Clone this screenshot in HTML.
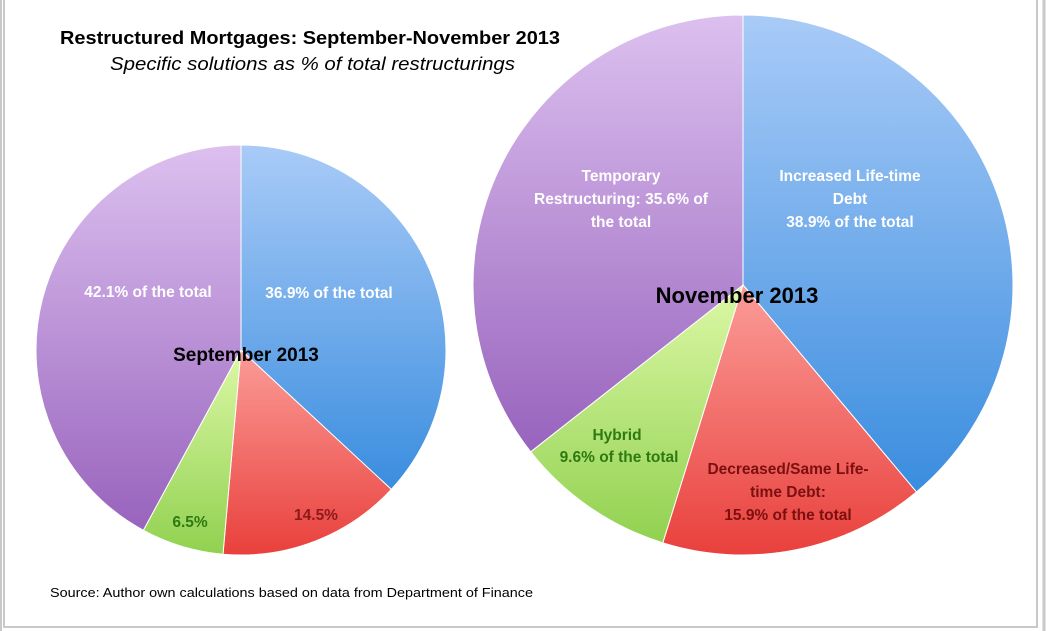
<!DOCTYPE html>
<html><head><meta charset="utf-8"><style>
body{margin:0;background:#fff;}
svg{display:block;font-family:"Liberation Sans",sans-serif;}
</style></head><body>
<svg width="1046" height="631" viewBox="0 0 1046 631">
<defs>
<linearGradient id="gBlue" x1="0" y1="0" x2="0" y2="1"><stop offset="0" stop-color="#a9cbf7"/><stop offset="1" stop-color="#3a8ddf"/></linearGradient>
<linearGradient id="gRed" x1="0" y1="0" x2="0" y2="1"><stop offset="0" stop-color="#fb9c98"/><stop offset="1" stop-color="#e9403c"/></linearGradient>
<linearGradient id="gGreen" x1="0" y1="0" x2="0" y2="1"><stop offset="0" stop-color="#dcf8a6"/><stop offset="1" stop-color="#91d150"/></linearGradient>
<linearGradient id="gPurple" x1="0" y1="0" x2="0" y2="1"><stop offset="0" stop-color="#dcc0ef"/><stop offset="1" stop-color="#9863bd"/></linearGradient>
</defs>
<rect x="0" y="0" width="1046" height="631" fill="#fff"/>
<rect x="4" y="-2" width="1033" height="629" fill="none" stroke="#c9c9c9" stroke-width="2"/>
<line x1="1044" y1="0" x2="1044" y2="631" stroke="#c9c9c9" stroke-width="3"/>
<line x1="1" y1="0" x2="1" y2="631" stroke="#c9c9c9" stroke-width="2"/>
<g id="pies"></g>
<text x="60" y="44" font-size="18" font-weight="bold" fill="#000" textLength="500" lengthAdjust="spacingAndGlyphs">Restructured Mortgages: September-November 2013</text>
<text x="110" y="70" font-size="18" font-style="italic" fill="#000" textLength="405" lengthAdjust="spacingAndGlyphs">Specific solutions as % of total restructurings</text>
<g font-weight="bold" font-size="15.5" text-anchor="middle">
<text x="329" y="298" fill="#fff">36.9% of the total</text>
<text x="148" y="297" fill="#fff">42.1% of the total</text>
<text x="316" y="520" fill="#8b1a1a">14.5%</text>
<text x="190" y="527" fill="#2e7a12">6.5%</text>
<text x="246" y="361" fill="#000" font-size="19">September 2013</text>
<text x="850" y="181" fill="#fff">Increased Life-time</text>
<text x="850" y="204" fill="#fff">Debt</text>
<text x="850" y="227" fill="#fff">38.9% of the total</text>
<text x="621" y="181" fill="#fff">Temporary</text>
<text x="621" y="204" fill="#fff">Restructuring: 35.6% of</text>
<text x="621" y="227" fill="#fff">the total</text>
<text x="737" y="303" fill="#000" font-size="22">November 2013</text>
<text x="617" y="440" fill="#2e7a12">Hybrid</text>
<text x="619" y="462" fill="#2e7a12">9.6% of the total</text>
<text x="788" y="474" fill="#7a1010">Decreased/Same Life-</text>
<text x="788" y="497" fill="#7a1010">time Debt:</text>
<text x="788" y="520" fill="#7a1010">15.9% of the total</text>
</g>
<text x="50" y="597" font-size="13" fill="#000" textLength="483" lengthAdjust="spacingAndGlyphs">Source: Author own calculations based on data from Department of Finance</text>
</svg>
<script>
const categories = ["Increased Life-time Debt","Decreased/Same Life-time Debt","Hybrid","Temporary Restructuring"];
const septValues = [36.9, 14.5, 6.5, 42.1];
const novValues = [38.9, 15.9, 9.6, 35.6];
const fills = ["url(#gBlue)","url(#gRed)","url(#gGreen)","url(#gPurple)"];
const NS = "http://www.w3.org/2000/svg";
const g = document.getElementById('pies');
function drawPie(vals, cx, cy, r, prefix){
  const total = vals.reduce((a,b)=>a+b,0);
  let a0 = -Math.PI/2;
  vals.forEach((v,i)=>{
    const a1 = a0 + v/total*2*Math.PI;
    const x0=cx+r*Math.cos(a0), y0=cy+r*Math.sin(a0), x1=cx+r*Math.cos(a1), y1=cy+r*Math.sin(a1);
    const large = (a1-a0)>Math.PI?1:0;
    const p = document.createElementNS(NS,'path');
    p.setAttribute('d',`M${cx},${cy}L${x0},${y0}A${r},${r} 0 ${large} 1 ${x1},${y1}Z`);
    p.setAttribute('fill',fills[i]);
    p.setAttribute('stroke','#fff');
    p.setAttribute('stroke-width','1');
    
    
    g.appendChild(p);
    a0 = a1;
  });
}
drawPie(septValues, 241, 350, 205, 'sep');
drawPie(novValues, 743, 285, 270, 'nov');
</script>
</body></html>
